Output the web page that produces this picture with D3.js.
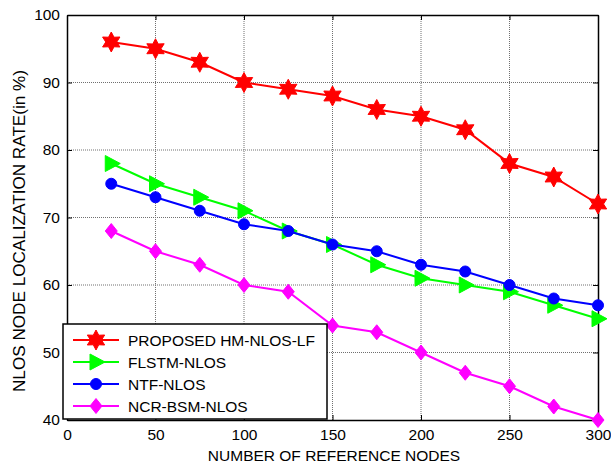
<!DOCTYPE html>
<html lang="en">
<head>
  <meta charset="UTF-8">
  <title>NLOS Localization Rate</title>
  <style>
    html, body { margin: 0; background: #fff; }
    svg { display: block; font-family: "Liberation Sans", Arial, sans-serif; }
  </style>
</head>
<body>
  <script src="https://d3js.org/d3.v7.min.js"></script>
  <script>
    const nodes = [25, 50, 75, 100, 125, 150, 175, 200, 225, 250, 275, 300];
    const proposed = [96, 95, 93, 90, 89, 88, 86, 85, 83, 78, 76, 72];
    const flstm = [78, 75, 73, 71, 68, 66, 63, 61, 60, 59, 57, 55];
    const ntf = [75, 73, 71, 69, 68, 66, 65, 63, 62, 60, 58, 57];
    const ncr = [68, 65, 63, 60, 59, 54, 53, 50, 47, 45, 42, 40];
    const xTicks = [0, 50, 100, 150, 200, 250, 300];
    const yTicks = [40, 50, 60, 70, 80, 90, 100];

    const series = [
      { name: "PROPOSED HM-NLOS-LF", values: proposed, color: "#ff0000", marker: "star" },
      { name: "FLSTM-NLOS", values: flstm, color: "#00ff00", marker: "tri" },
      { name: "NTF-NLOS", values: ntf, color: "#0000ff", marker: "circle" },
      { name: "NCR-BSM-NLOS", values: ncr, color: "#ff00ff", marker: "diamond" }
    ];

    const W = 611, H = 466;
    const pLeft = 67, pRight = 598, pTop = 15, pBottom = 420;

    const svg = d3.select("body").append("svg")
      .attr("width", W).attr("height", H);

    const x = d3.scaleLinear().domain([0, 300]).range([pLeft, pRight]);
    const y = d3.scaleLinear().domain([40, 100]).range([pBottom, pTop]);

    // grid
    const grid = svg.append("g").attr("stroke", "#707070").attr("stroke-width", 1)
      .attr("stroke-dasharray", "1,1");
    xTicks.slice(1, -1).forEach(t => {
      grid.append("line").attr("x1", x(t)).attr("x2", x(t)).attr("y1", pTop).attr("y2", pBottom);
    });
    yTicks.slice(1, -1).forEach(t => {
      grid.append("line").attr("x1", pLeft).attr("x2", pRight).attr("y1", y(t)).attr("y2", y(t));
    });

    // axes (inward ticks)
    const axB = svg.append("g").attr("transform", `translate(0,${pBottom})`)
      .call(d3.axisBottom(x).tickValues(xTicks).tickSizeInner(-5).tickSizeOuter(0).tickPadding(9));
    const axL = svg.append("g").attr("transform", `translate(${pLeft},0)`)
      .call(d3.axisLeft(y).tickValues(yTicks).tickSizeInner(-5).tickSizeOuter(0).tickPadding(7));
    const axT = svg.append("g").attr("transform", `translate(0,${pTop})`)
      .call(d3.axisTop(x).tickValues(xTicks).tickSizeInner(-5).tickSizeOuter(0).tickFormat(""));
    const axR = svg.append("g").attr("transform", `translate(${pRight},0)`)
      .call(d3.axisRight(y).tickValues(yTicks).tickSizeInner(-5).tickSizeOuter(0).tickFormat(""));
    [axB, axL, axT, axR].forEach(a => {
      a.select(".domain").attr("stroke", "#000").attr("stroke-width", 1.5);
      a.selectAll("text").attr("font-size", 15.5).attr("fill", "#000")
        .attr("font-family", "'Liberation Sans', Arial, sans-serif");
    });

    // markers
    function hexagram(r) {
      const pts = [];
      for (let i = 0; i < 12; i++) {
        const a = -Math.PI / 2 + i * Math.PI / 6;
        const rr = i % 2 === 0 ? r : r * 0.55;
        pts.push([rr * Math.cos(a), rr * Math.sin(a)]);
      }
      return "M" + pts.map(p => p.join(",")).join("L") + "Z";
    }
    function drawMarker(g, type, cx, cy, color) {
      if (type === "star") {
        g.append("path").attr("d", hexagram(10)).attr("transform", `translate(${cx},${cy})`)
          .attr("fill", color).attr("stroke", color);
      } else if (type === "tri") {
        g.append("path").attr("d", "M-6,-8L9,0L-6,8Z").attr("transform", `translate(${cx},${cy})`)
          .attr("fill", color).attr("stroke", color);
      } else if (type === "circle") {
        g.append("circle").attr("cx", cx).attr("cy", cy).attr("r", 5.5)
          .attr("fill", color).attr("stroke", color);
      } else {
        g.append("path").attr("d", "M0,-7.5L6,0L0,7.5L-6,0Z").attr("transform", `translate(${cx},${cy})`)
          .attr("fill", color).attr("stroke", color);
      }
    }

    const line = d3.line().x((d, i) => x(nodes[i])).y(d => y(d));
    series.forEach(s => {
      const g = svg.append("g");
      g.append("path").datum(s.values).attr("d", line)
        .attr("fill", "none").attr("stroke", s.color).attr("stroke-width", 2);
      s.values.forEach((v, i) => drawMarker(g, s.marker, x(nodes[i]), y(v), s.color));
    });

    // legend
    const lg = svg.append("g");
    const lx = 63, ly = 324, lw = 264, lh = 95;
    lg.append("rect").attr("x", lx).attr("y", ly).attr("width", lw).attr("height", lh)
      .attr("fill", "#fff").attr("stroke", "#000").attr("stroke-width", 1.5);
    series.forEach((s, i) => {
      const yy = ly + 16 + i * 22;
      lg.append("line").attr("x1", lx + 10).attr("x2", lx + 56).attr("y1", yy).attr("y2", yy)
        .attr("stroke", s.color).attr("stroke-width", 2);
      drawMarker(lg, s.marker, lx + 33, yy, s.color);
      lg.append("text").attr("x", lx + 65).attr("y", yy).attr("dy", "0.36em")
        .attr("font-size", 15.5).text(s.name);
    });

    // labels
    svg.append("text").attr("x", 334).attr("y", 461)
      .attr("text-anchor", "middle").attr("font-size", 15.5).text("NUMBER OF REFERENCE NODES");
    svg.append("text").attr("transform", `translate(25,231) rotate(-90)`)
      .attr("text-anchor", "middle").attr("font-size", 16)
      .attr("textLength", 322).attr("lengthAdjust", "spacingAndGlyphs")
      .text("NLOS NODE LOCALIZATION RATE(in %)");
  </script>
</body>
</html>
